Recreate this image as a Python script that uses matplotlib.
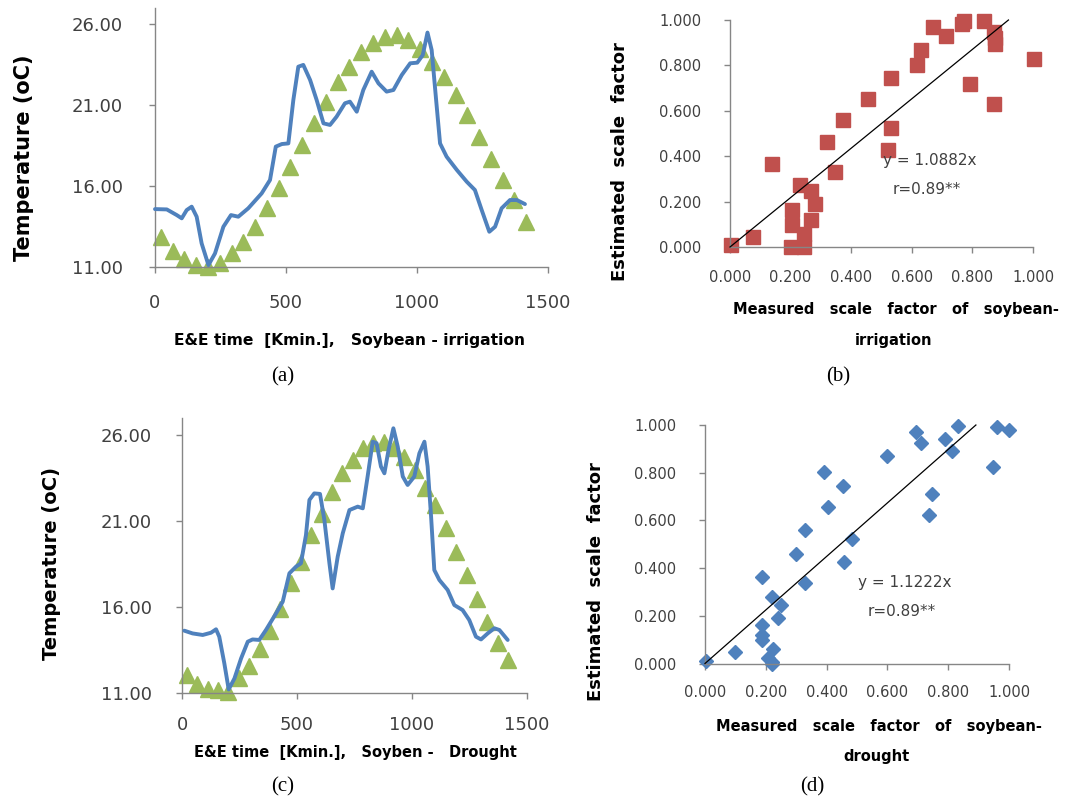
import matplotlib.pyplot as plt

W, H = 1072, 800

# simulated temperature (triangles), same time steps for both treatments [Kmin]
sim_time = [22, 67, 112, 157, 202, 247, 292, 337, 382, 427, 472, 517, 562, 607, 652, 697,
            742, 787, 832, 877, 922, 967, 1012, 1057, 1102, 1147, 1192, 1237, 1282, 1327, 1372, 1417]
sim_irrig = [12.81, 11.99, 11.45, 11.10, 11.00, 11.21, 11.82, 12.55, 13.47, 14.61, 15.84, 17.18,
             18.52, 19.86, 21.20, 22.44, 23.36, 24.29, 24.81, 25.22, 25.32, 25.01, 24.43, 23.67,
             22.75, 21.61, 20.38, 19.04, 17.63, 16.36, 15.12, 13.78]
sim_drought = [12.03, 11.50, 11.19, 11.16, 11.06, 11.83, 12.55, 13.52, 14.61, 15.85, 17.37, 18.63,
               20.18, 21.40, 22.70, 23.77, 24.55, 25.22, 25.52, 25.57, 25.22, 24.74, 23.96, 22.90,
               21.93, 20.57, 19.21, 17.85, 16.43, 15.13, 13.87, 12.90]

# measured temperature (blue line)
obs_time_irrig = [0, 45, 83, 102, 121, 140, 159, 178, 204, 229, 261, 290, 318, 356, 407, 439, 461,
                  484, 509, 528, 547, 566, 592, 617, 643, 668, 693, 725, 744, 770, 795, 827, 853,
                  884, 910, 942, 974, 1001, 1022, 1040, 1056, 1073, 1088, 1113, 1152, 1190, 1221,
                  1247, 1276, 1298, 1323, 1355, 1381, 1412]
obs_temp_irrig = [14.56, 14.54, 14.19, 13.99, 14.50, 14.71, 14.09, 12.44, 11.10, 11.82, 13.47, 14.19,
                  14.09, 14.61, 15.53, 16.36, 18.42, 18.58, 18.62, 21.30, 23.36, 23.47, 22.54, 21.30,
                  19.86, 19.76, 20.27, 21.10, 21.20, 20.58, 21.92, 23.05, 22.33, 21.82, 21.92, 22.85,
                  23.57, 23.61, 24.08, 25.47, 24.39, 21.30, 18.62, 17.80, 16.98, 16.25, 15.74, 14.50,
                  13.16, 13.47, 14.61, 15.12, 15.12, 14.87]
obs_time_drought = [10, 46, 90, 126, 148, 162, 184, 203, 228, 257, 286, 307, 336, 365, 409, 438, 467,
                    496, 517, 539, 554, 575, 600, 619, 641, 655, 677, 699, 728, 764, 786, 807, 829,
                    846, 865, 880, 898, 919, 938, 960, 981, 1010, 1032, 1054, 1068, 1083, 1097, 1119,
                    1155, 1184, 1220, 1249, 1278, 1300, 1329, 1358, 1380, 1416]
obs_temp_drought = [14.61, 14.45, 14.36, 14.49, 14.69, 14.26, 12.71, 11.19, 11.83, 13.00, 13.97, 14.10,
                    14.07, 14.65, 15.62, 16.30, 17.95, 18.34, 18.53, 20.18, 22.22, 22.60, 22.57, 21.05,
                    18.53, 17.07, 18.92, 20.28, 21.63, 21.83, 21.73, 23.58, 25.61, 25.52, 24.16, 23.77,
                    25.13, 26.39, 25.32, 23.58, 23.09, 23.58, 24.93, 25.61, 24.16, 21.25, 18.14, 17.56,
                    16.98, 16.10, 15.81, 15.23, 14.26, 14.10, 14.45, 14.75, 14.65, 14.07]

# scale factors, measured vs estimated
meas_irrig = [0.003, 0.075, 0.137, 0.200, 0.206, 0.206, 0.232, 0.243, 0.245, 0.268, 0.268, 0.281,
              0.320, 0.346, 0.373, 0.455, 0.522, 0.532, 0.532, 0.616, 0.632, 0.669, 0.714, 0.766,
              0.771, 0.792, 0.838, 0.872, 0.875, 0.875, 0.870, 1.002]
est_irrig = [0.008, 0.042, 0.367, 0.000, 0.161, 0.095, 0.272, 0.059, 0.000, 0.246, 0.117, 0.191,
             0.463, 0.331, 0.559, 0.654, 0.427, 0.524, 0.744, 0.802, 0.867, 0.968, 0.929, 0.981,
             0.996, 0.720, 0.994, 0.945, 0.920, 0.893, 0.630, 0.826]
meas_drought = [0.002, 0.100, 0.186, 0.186, 0.186, 0.189, 0.219, 0.250, 0.239, 0.225, 0.208, 0.219,
                0.222, 0.300, 0.330, 0.330, 0.392, 0.405, 0.453, 0.456, 0.483, 0.600, 0.694, 0.709,
                0.736, 0.747, 0.788, 0.814, 0.831, 0.948, 0.961, 1.001]
est_drought = [0.009, 0.048, 0.364, 0.163, 0.119, 0.097, 0.277, 0.245, 0.189, 0.059, 0.021, 0.000,
               0.005, 0.461, 0.337, 0.560, 0.802, 0.656, 0.746, 0.425, 0.523, 0.872, 0.969, 0.923,
               0.621, 0.711, 0.941, 0.893, 0.997, 0.823, 0.990, 0.979]
slope_irrig = 1.0882
slope_drought = 1.1222
r_value = 0.89

temp_ticks = [11, 16, 21, 26]
time_ticks = [0, 500, 1000, 1500]
sf_ticks = [0.0, 0.2, 0.4, 0.6, 0.8, 1.0]

BLUE = "#4F81BD"
GREEN = "#9BBB59"
RED = "#C0504D"
AXIS = "#868686"
TICK = "#404040"

fig = plt.figure(figsize=(W / 100, H / 100), dpi=100)


def box(left, top, right, bottom):
    # pixel box -> figure fraction
    return [left / W, 1 - bottom / H, (right - left) / W, (bottom - top) / H]


def ftext(x, y, s, **kw):
    fig.text(x / W, 1 - y / H, s, ha="center", va="center", **kw)


def style(ax, fs, xpad, ypad):
    for s in ("top", "right"):
        ax.spines[s].set_visible(False)
    for s in ("left", "bottom"):
        ax.spines[s].set_color(AXIS)
        ax.spines[s].set_linewidth(1.0)
    ax.tick_params(direction="out", length=4.5, width=1, color=AXIS,
                   labelsize=fs, labelcolor=TICK)
    ax.tick_params(axis="x", pad=xpad)
    ax.tick_params(axis="y", pad=ypad)


def temp_panel(rect, obs_t, obs_y, sim_y, xpad, ypad):
    ax = fig.add_axes(rect)
    ax.plot(sim_time, sim_y, ls="none", marker="^", ms=11.5, color=GREEN, mec=GREEN,
            clip_on=False, zorder=2)
    ax.plot(obs_t, obs_y, color=BLUE, lw=2.8, solid_joinstyle="round",
            solid_capstyle="round", clip_on=False, zorder=3)
    ax.set_xlim(0, 1500)
    ax.set_ylim(11, 27)
    ax.set_xticks(time_ticks)
    ax.set_yticks(temp_ticks)
    ax.set_yticklabels(["%.2f" % v for v in temp_ticks])
    style(ax, 13, xpad, ypad)
    return ax


def sf_panel(rect, mx, my, marker, ms, color, slope, xpad, ypad):
    ax = fig.add_axes(rect)
    ax.plot(mx, my, ls="none", marker=marker, ms=ms, color=color, mec=color,
            clip_on=False, zorder=2)
    x_end = 1.0 / slope
    ax.plot([0, x_end], [0, slope * x_end], color="black", lw=0.9, zorder=3, clip_on=False)
    ax.set_xlim(0, 1)
    ax.set_ylim(0, 1)
    ax.set_xticks(sf_ticks)
    ax.set_yticks(sf_ticks)
    ax.set_xticklabels(["%.3f" % v for v in sf_ticks])
    ax.set_yticklabels(["%.3f" % v for v in sf_ticks])
    style(ax, 10.5, xpad, ypad)
    return ax


temp_panel(box(155, 7.8, 548, 266.7), obs_time_irrig, obs_temp_irrig, sim_irrig, 15, 18.5)
temp_panel(box(182, 417.8, 527, 692.7), obs_time_drought, obs_temp_drought, sim_drought, 12, 17)
sf_panel(box(730, 20, 1033, 247), meas_irrig, est_irrig, "s", 9.5, RED, slope_irrig, 12, 16)
sf_panel(box(705, 425, 1009, 663.5), meas_drought, est_drought, "D", 7, BLUE, slope_drought, 11, 16)

bold = dict(fontweight="bold", color="black")
serif = dict(family="Liberation Serif", fontsize=15, color="black")
note = dict(fontsize=11, color=TICK)

# panel (a)
ftext(24, 158, "Temperature (oC)", rotation=90, fontsize=15, **bold)
ftext(349, 340, "E&E time  [Kmin.],   Soybean - irrigation", fontsize=11.2, **bold)
ftext(283, 377, "(a)", **serif)

# panel (b)
ftext(620, 162, "Estimated  scale  factor", rotation=90, fontsize=13, **bold)
ftext(896, 310, "Measured   scale   factor   of   soybean-", fontsize=10.5, **bold)
ftext(893, 341, "irrigation", fontsize=10.5, **bold)
ftext(838, 377, "(b)", **serif)
ftext(930, 161, "y = %.4fx" % slope_irrig, **note)
ftext(927, 190, "r=%.2f**" % r_value, **note)

# panel (c)
ftext(52, 563, "Temperature (oC)", rotation=90, fontsize=14, **bold)
ftext(355, 752, "E&E time  [Kmin.],   Soyben -   Drought", fontsize=10.5, **bold)
ftext(283, 787, "(c)", **serif)

# panel (d)
ftext(596, 582, "Estimated  scale  factor", rotation=90, fontsize=13, **bold)
ftext(879, 727, "Measured   scale   factor   of   soybean-", fontsize=10.5, **bold)
ftext(876, 757, "drought", fontsize=10.5, **bold)
ftext(812, 787, "(d)", **serif)
ftext(905, 583, "y = %.4fx" % slope_drought, **note)
ftext(902, 612, "r=%.2f**" % r_value, **note)

fig.savefig("out.png", dpi=100, facecolor="white")
